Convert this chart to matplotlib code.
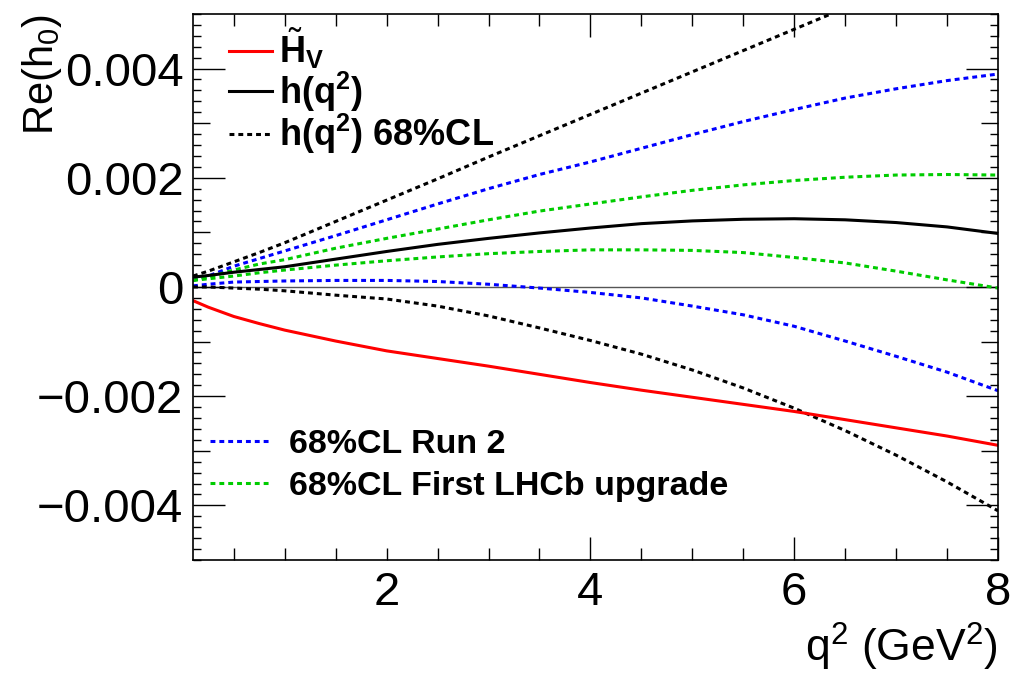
import matplotlib
matplotlib.use("Agg")
import matplotlib.pyplot as plt
from matplotlib.ticker import FixedLocator, MultipleLocator, FuncFormatter

plt.rcParams['font.family'] = ['Liberation Sans', 'DejaVu Sans']
plt.rcParams['mathtext.fontset'] = 'custom'
plt.rcParams['mathtext.rm'] = 'Liberation Sans'
plt.rcParams['mathtext.it'] = 'Liberation Sans:italic'
plt.rcParams['mathtext.bf'] = 'Liberation Sans:bold'

# q^2 grid (GeV^2) shared by most curves
q2 = [0.1, 0.25, 0.5, 0.75, 1.0, 1.5, 2.0, 2.5, 3.0, 3.5, 4.0, 4.5, 5.0, 5.5, 6.0, 6.5, 7.0, 7.5, 8.0]

# H~_V
Hv = [-0.00025, -0.00037, -0.00054, -0.00067, -0.00079, -0.00099, -0.00117, -0.00131, -0.00145, -0.00160,
      -0.00175, -0.00189, -0.00202, -0.00215, -0.00228, -0.00243, -0.00258, -0.00273, -0.00290]

# h(q^2) central value
h_cen = [0.00018, 0.00021, 0.00027, 0.00032, 0.00037, 0.00051, 0.00065, 0.00078, 0.00089, 0.00099,
         0.00108, 0.00116, 0.00121, 0.00124, 0.00125, 0.00123, 0.00118, 0.00110, 0.00098]

# h(q^2) 68% CL band (upper edge leaves the frame near 6.4)
q2_up = [0.1, 0.25, 0.5, 0.75, 1.0, 1.5, 2.0, 2.5, 3.0, 3.5, 4.0, 4.5, 5.0, 5.5, 6.0, 6.36]
h_cl_up = [0.00020, 0.00029, 0.00046, 0.00063, 0.00081, 0.00120, 0.00159, 0.00198, 0.00238, 0.00277,
           0.00316, 0.00355, 0.00394, 0.00433, 0.00472, 0.00500]
h_cl_lo = [0.00000, 0.00000, -0.00002, -0.00004, -0.00007, -0.00015, -0.00022, -0.00035, -0.00053, -0.00075,
           -0.00098, -0.00123, -0.00152, -0.00185, -0.00222, -0.00263, -0.00308, -0.00357, -0.00410]

# 68% CL Run 2
run2_up = [0.00012, 0.00020, 0.00038, 0.00052, 0.00066, 0.00094, 0.00123, 0.00152, 0.00180, 0.00206,
           0.00229, 0.00254, 0.00279, 0.00303, 0.00325, 0.00346, 0.00363, 0.00378, 0.00390]
run2_lo = [0.00002, 0.00005, 0.00009, 0.00010, 0.00011, 0.00012, 0.00012, 0.00010, 0.00005, -0.00002,
           -0.00010, -0.00020, -0.00035, -0.00051, -0.00072, -0.00099, -0.00127, -0.00156, -0.00190]

# 68% CL first LHCb upgrade
upg_up = [0.00012, 0.00018, 0.00031, 0.00042, 0.00050, 0.00071, 0.00089, 0.00106, 0.00123, 0.00139,
          0.00152, 0.00165, 0.00177, 0.00187, 0.00195, 0.00201, 0.00205, 0.00206, 0.00205]
upg_lo = [0.00012, 0.00015, 0.00020, 0.00026, 0.00031, 0.00040, 0.00048, 0.00055, 0.00061, 0.00065,
          0.00068, 0.00068, 0.00067, 0.00063, 0.00054, 0.00044, 0.00029, 0.00013, -0.00002]

green = '#00cc00'
dots = (0, (1.6, 1.3))
lw = 2.2

fig = plt.figure(figsize=(10.12, 6.75), dpi=100)
ax = fig.add_axes([0.1907, 0.1704, 0.7955, 0.8089])

ax.axhline(0, color='#555555', lw=1.0, zorder=1)

l_run2, = ax.plot(q2, run2_up, color='blue', ls=dots, lw=lw)
ax.plot(q2, run2_lo, color='blue', ls=dots, lw=lw)
l_upg, = ax.plot(q2, upg_up, color=green, ls=dots, lw=lw)
ax.plot(q2, upg_lo, color=green, ls=dots, lw=lw)
l_cl, = ax.plot(q2_up, h_cl_up, color='black', ls=dots, lw=lw)
ax.plot(q2, h_cl_lo, color='black', ls=dots, lw=lw)
l_h, = ax.plot(q2, h_cen, color='black', lw=lw)
l_hv, = ax.plot(q2, Hv, color='red', lw=lw)

ax.set_xlim(0.1, 8)
ax.set_ylim(-0.005, 0.005)

# ticks: ROOT-like, inside, mirrored on all sides
ax.xaxis.set_major_locator(FixedLocator([2, 4, 6, 8]))
ax.xaxis.set_minor_locator(MultipleLocator(0.5))
ax.yaxis.set_major_locator(FixedLocator([-0.004, -0.003, -0.002, -0.001, 0, 0.001, 0.002, 0.003, 0.004]))
ax.yaxis.set_minor_locator(MultipleLocator(0.0002))


def yfmt(v, pos):
    if abs(v) < 1e-9:
        return '0'
    if round(v / 0.001) % 2:
        return ''
    return ('%.3f' % v).replace('-', '\u2212')


ax.yaxis.set_major_formatter(FuncFormatter(yfmt))
ax.xaxis.set_major_formatter(FuncFormatter(lambda v, p: '%d' % v))
ax.tick_params(which='both', direction='in', top=True, right=True, width=1.0, labelsize=34)
ax.tick_params(axis='x', which='major', length=16.5, pad=8)
ax.tick_params(axis='x', which='minor', length=8.5)
ax.tick_params(axis='y', which='major', length=23, pad=7)
ax.tick_params(axis='y', which='minor', length=6)
for sp in ax.spines.values():
    sp.set_linewidth(1.2)

# medium ticks at odd multiples of 0.001, short major tick at q2=2
for t, v in zip(ax.yaxis.get_major_ticks(), ax.get_yticks()):
    if round(v / 0.001) % 2:
        t.tick1line.set_markersize(12)
        t.tick2line.set_markersize(12)
for t, v in zip(ax.xaxis.get_major_ticks(), ax.get_xticks()):
    if v == 2:
        t.tick1line.set_markersize(8.5)
        t.tick2line.set_markersize(8.5)

ax.set_xlabel(r'q$^{2}$ (GeV$^{2}$)', fontsize=32, loc='right')
ax.xaxis.set_label_coords(1.0, -0.112)
ax.set_ylabel(r'Re(h$_{0}$)', fontsize=30, loc='top')
ax.yaxis.set_label_coords(-0.16, 1.0)

leg1 = ax.legend([l_hv, l_h, l_cl],
                 [r'$\tilde{\mathbf{H}}_{\mathbf{V}}$', r'h(q$^{\mathbf{2}}$)', r'h(q$^{\mathbf{2}}$) 68%CL'],
                 loc='upper left', bbox_to_anchor=(0.031, 0.998), borderaxespad=0,
                 prop={'size': 26, 'weight': 'bold'}, frameon=False,
                 handlelength=1.2, handletextpad=0.2, labelspacing=-0.05, borderpad=0.3)
ax.add_artist(leg1)
ax.legend([l_run2, l_upg], ['68%CL Run 2', '68%CL First LHCb upgrade'],
          loc='upper left', bbox_to_anchor=(0.009, 0.258), borderaxespad=0,
          prop={'size': 24.5, 'weight': 'bold'}, frameon=False,
          handlelength=1.8, handletextpad=0.5, labelspacing=0.3, borderpad=0.3)

fig.savefig('out.png', dpi=100)
